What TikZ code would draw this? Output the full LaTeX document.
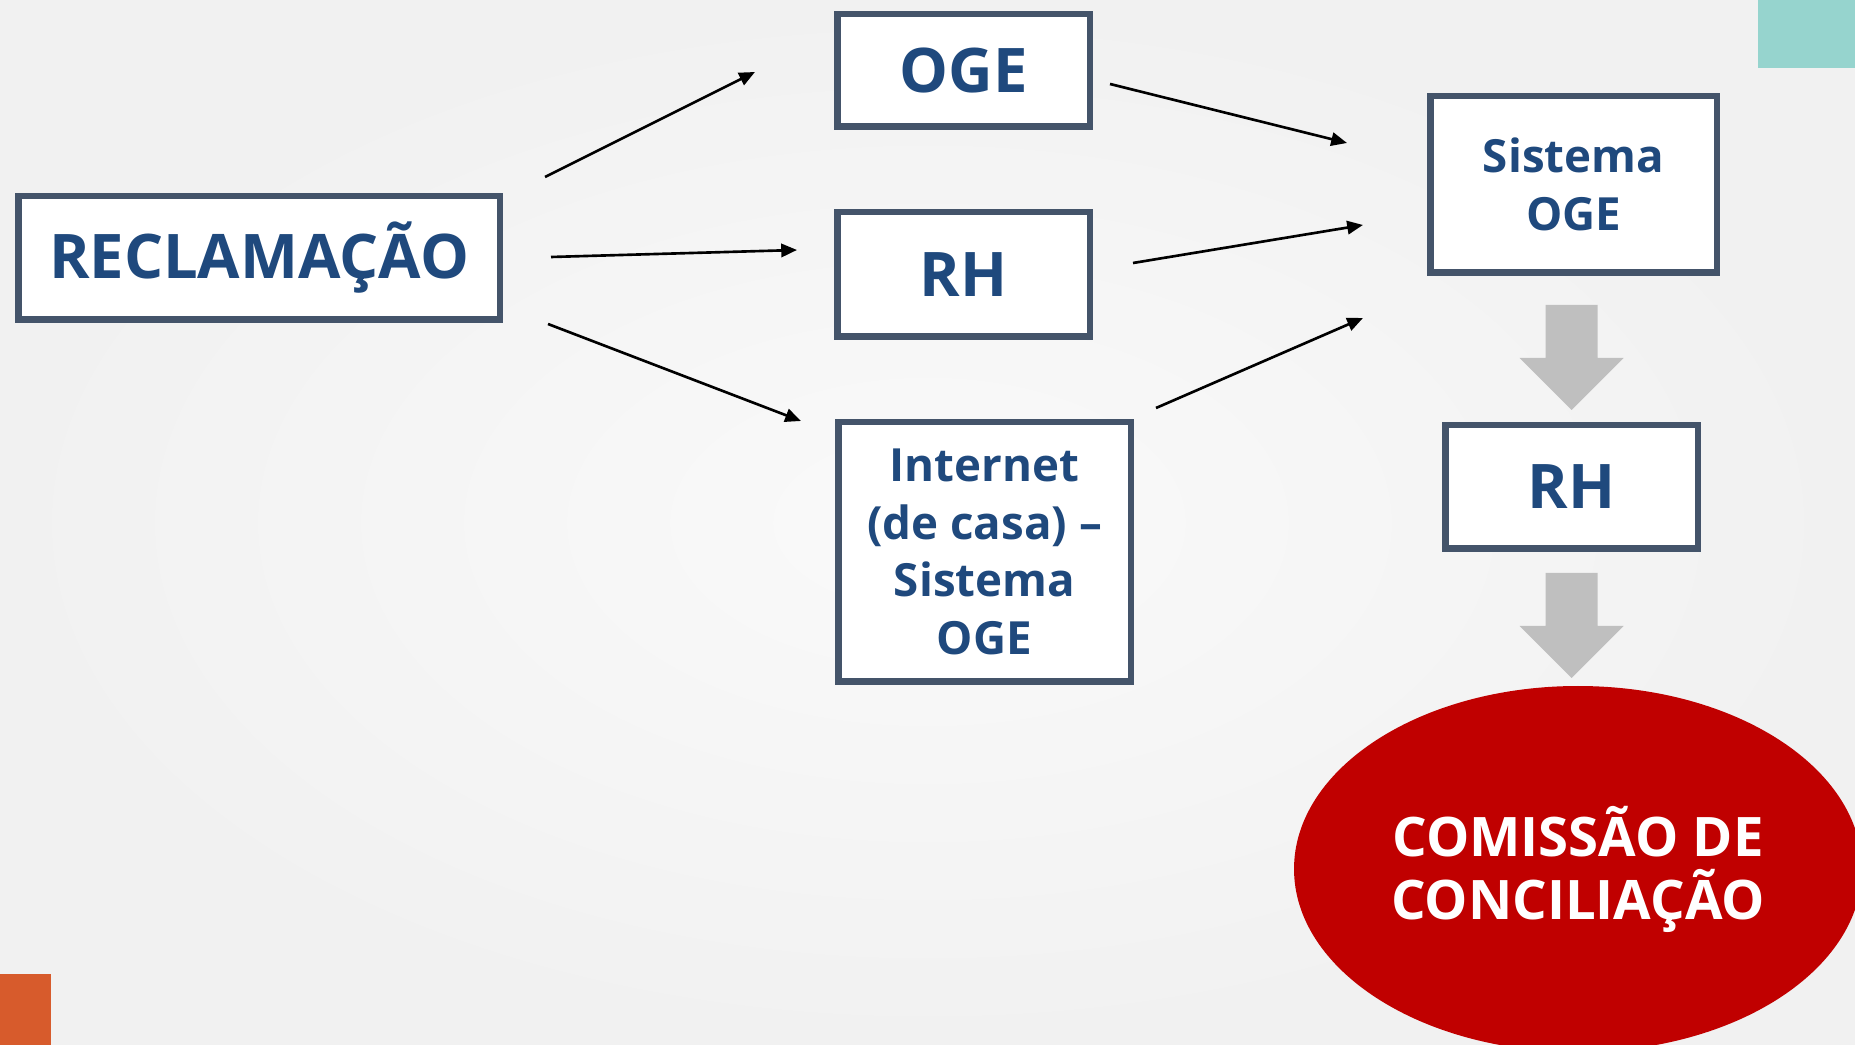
\documentclass[tikz,border=0pt]{standalone}
\usepackage{fontspec}
\setmainfont{Open Sans}
\usetikzlibrary{calc, arrows.meta, shapes.geometric}
\definecolor{boxline}{HTML}{44546A}
\definecolor{boxtext}{HTML}{1F497D}
\definecolor{comred}{HTML}{C00000}
\definecolor{blockgray}{HTML}{BFBFBF}
\definecolor{tealbar}{HTML}{96D4CE}
\definecolor{orangebar}{HTML}{D75B2C}
\definecolor{bgin}{HTML}{FAFAFA}
\definecolor{bgout}{HTML}{F1F1F1}
\newcommand{\grayarrow}[2]{\fill[blockgray] ([shift={(-26,#2)}]#1) -- ++(52,0) -- ++(0,53) -- ++(26,0) -- ++(-52,52) -- ++(-52,-52) -- ++(26,0) -- cycle;}

\begin{document}
\begin{tikzpicture}[x=0.1mm, y=-0.1mm,
  box node/.style={draw=boxline, line width=0.65mm, fill=white, text=boxtext, align=center, inner sep=0pt, font=\bfseries\fontsize{17.5}{20}\selectfont},
  small text/.style={font=\bfseries\fontsize{13}{16.4}\selectfont},
  arrow line/.style={-{Triangle[length=4.5pt,width=3.8pt]}, line width=0.75pt, black}]
   \clip (0,0) rectangle (1855,1045);
   \shade[inner color=bgin, outer color=bgout] (0,0) rectangle (1855,1045);
   \fill[tealbar] (1758,0) rectangle (1855,68);
   \fill[orangebar] (0,974) rectangle (51,1045);

   \node[box node, minimum width=48.15mm, minimum height=12.35mm] (recl) at (259,258) {RECLAMAÇÃO};
   \node[box node, minimum width=25.25mm, minimum height=11.25mm] (oge) at (963.5,70.5) {OGE};
   \node[box node, minimum width=25.25mm, minimum height=12.45mm] (rh1) at (963.5,274.5) {RH};
   \node[box node, small text, minimum width=29.25mm, minimum height=25.95mm] (net) at (984.5,552) {Internet\\(de casa) –\\Sistema\\OGE};
   \node[box node, small text, minimum width=28.65mm, minimum height=17.65mm] (sis) at (1573.5,184.5) {Sistema\\OGE};
   \node[box node, minimum width=25.25mm, minimum height=12.35mm] (rh2) at (1571.5,487) {RH};
   \node[ellipse, fill=comred, text=white, align=center, inner sep=0pt, minimum width=56.8mm, minimum height=36.6mm, font=\bfseries\fontsize{15.5}{17.9}\selectfont] (com) at (1578,869) {COMISSÃO DE\\CONCILIAÇÃO};

   \draw[arrow line] ([shift={(42,-16)}]recl.north east) -- ([shift={(-79,1.5)}]oge.west);
   \draw[arrow line] ([shift={(48,-1)}]recl.east) -- ([shift={(-37,-24.5)}]rh1.west);
   \draw[arrow line] ([shift={(45,1)}]recl.south east) -- ([shift={(-34,2)}]net.north west);
   \draw[arrow line] ([shift={(17,13.5)}]oge.east) -- ([shift={(-80,-41.5)}]sis.west);
   \draw[arrow line] ([shift={(40,-11.5)}]rh1.east) -- ([shift={(-64,-51)}]sis.south west);
   \draw[arrow line] ([shift={(22,-11)}]net.north east) -- ([shift={(-64,42)}]sis.south west);

   \grayarrow{rh2.north}{-117}
   \grayarrow{rh2.south}{21}
\end{tikzpicture}
\end{document}
